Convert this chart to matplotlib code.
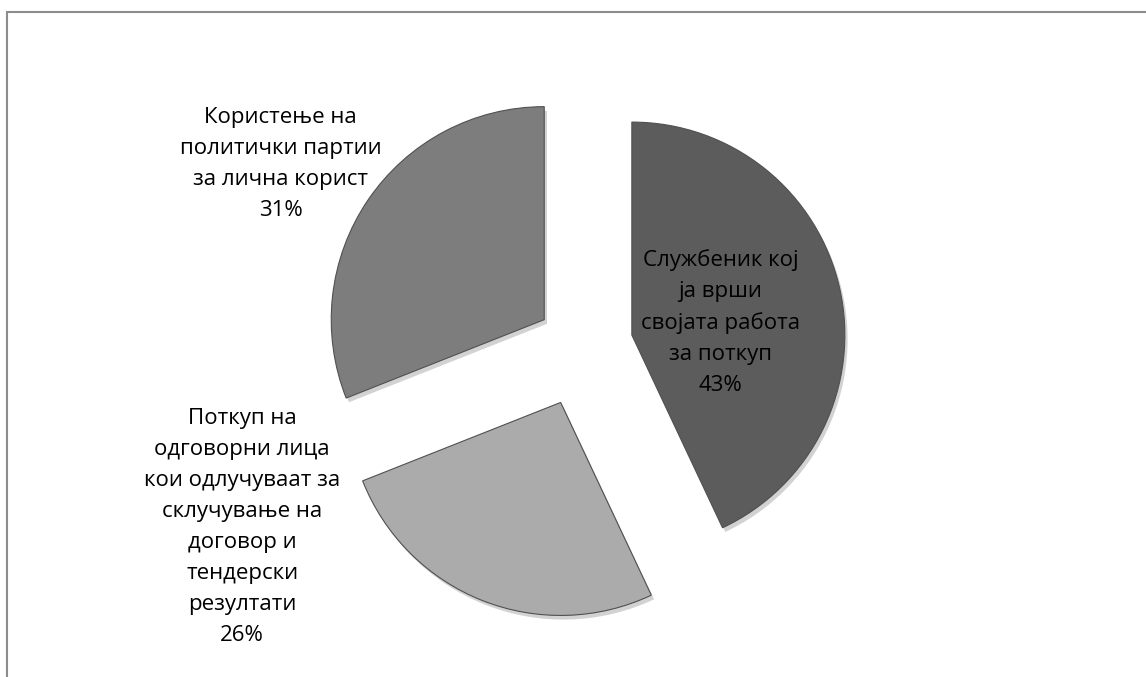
import matplotlib.pyplot as plt
import matplotlib.patheffects as pe
from matplotlib.patches import Rectangle

plt.rcParams['font.family'] = ['Open Sans', 'DejaVu Sans']

# share of answers per category
categories = [
    'Службеник кој\nја врши\nсвојата работа\nза поткуп',
    'Поткуп на\nодговорни лица\nкои одлучуваат за\nсклучување на\nдоговор и\nтендерски\nрезултати',
    'Користење на\nполитички партии\nза лична корист',
]
shares = [43, 26, 31]
colors = ['#5c5c5c', '#ababab', '#7d7d7d']
explode = [0.235, 0.285, 0.22]
label_pos = [(0.645, 0.11), (-1.60, -0.85), (-1.42, 0.855)]

W, H = 1146, 677
fig = plt.figure(figsize=(W / 100, H / 100), dpi=100)
ax = fig.add_axes([0, 0, 1, 1])

wedges, _ = ax.pie(shares, colors=colors, explode=explode, startangle=90,
                   counterclock=False,
                   wedgeprops=dict(edgecolor='#505050', linewidth=0.8))
for w in wedges:
    w.set_path_effects([
        pe.SimplePatchShadow(offset=(2, -3), shadow_rgbFace='#808080', alpha=0.35),
        pe.Normal(),
    ])

for cat, val, (x, y) in zip(categories, shares, label_pos):
    ax.text(x, y, f'{cat}\n{val}%', ha='center', va='center',
            fontsize=16, linespacing=1.62, color='black')

# 213 px per unit, pie centre at (583, 346) px from the top-left
s = 213.0
cx, cy = 583.0, 346.0
ax.set_xlim(-cx / s, (W - cx) / s)
ax.set_ylim(-(H - cy) / s, cy / s)
ax.set_aspect('auto')
ax.axis('off')

# chart frame (right and bottom sides fall outside the image)
fig.add_artist(Rectangle((7 / W, -0.1), 1.2, (H - 12) / H + 0.1,
                         transform=fig.transFigure, fill=False,
                         edgecolor='#8c8c8c', linewidth=1.5))

fig.savefig('out.png', dpi=100, facecolor='white')
